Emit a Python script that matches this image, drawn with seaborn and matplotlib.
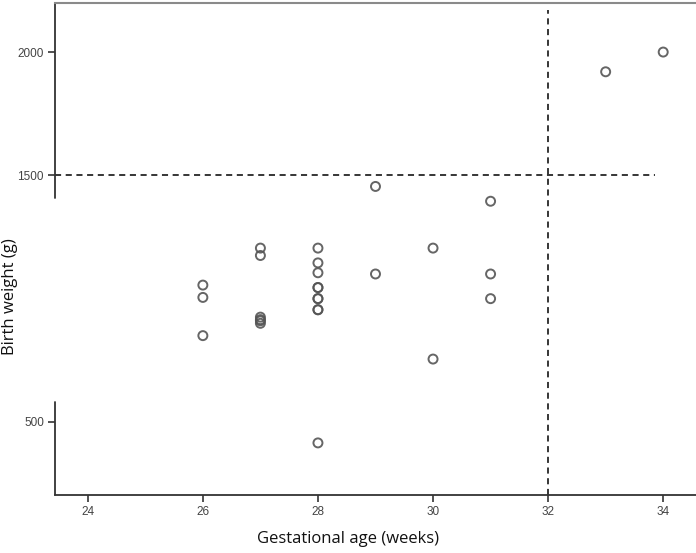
import pandas as pd
import matplotlib
matplotlib.use('Agg')
import matplotlib.pyplot as plt
import seaborn as sns

# values
gest_age = [26, 26, 26,
            27, 27, 27, 27, 27, 27,
            28, 28, 28, 28, 28, 28, 28, 28, 28, 28,
            29, 29,
            30, 30,
            31, 31, 31,
            33, 34]
birth_weight = [1055, 1005, 850,
                1205, 1175, 925, 915, 910, 900,
                1205, 1145, 1105, 1045, 1045, 1000, 1000, 955, 955, 415,
                1455, 1100,
                1205, 755,
                1395, 1100, 1000,
                1920, 2000]
x_ticks = [24, 26, 28, 30, 32, 34]
y_ticks = [500, 1500, 2000]
weight_cut = 1500
age_cut = 32

df = pd.DataFrame({'age': gest_age, 'weight': birth_weight})

sns.set_style('white')

fig = plt.figure(figsize=(6.96, 5.53), dpi=100)
ax = fig.add_axes([0.079, 0.105, 0.921, 0.8896])

sns.scatterplot(data=df, x='age', y='weight', ax=ax, marker='o', s=42,
                facecolor='none', edgecolor='#555555', linewidth=1.4, alpha=0.9)

ax.set_xlim(23.43, 34.57)
ax.set_ylim(204, 2199)

ax.axhline(weight_cut, xmin=0, xmax=0.936, color='black', linestyle=(0, (4, 3)), linewidth=1.1)
ax.axvline(age_cut, ymin=0, ymax=0.986, color='black', linestyle=(0, (4, 3)), linewidth=1.1)

ax.set_xticks(x_ticks)
ax.set_yticks(y_ticks)
ax.tick_params(axis='both', direction='out', length=5, width=1.2, color='#333333',
               labelsize=8.5, labelcolor='#444444', bottom=True, left=True, pad=3)
for lab in ax.get_xticklabels() + ax.get_yticklabels():
    lab.set_family('Liberation Sans')

# left spine has a gap around 1000
ax.spines['left'].set_visible(False)
ax.spines['right'].set_visible(False)
ax.spines['top'].set_color('#8a8a8a')
ax.spines['top'].set_linewidth(1.5)
ax.spines['bottom'].set_color('#333333')
ax.spines['bottom'].set_linewidth(1.3)
trans = ax.get_yaxis_transform()
ax.plot([0, 0], [1408, 2199], transform=trans, color='#333333', linewidth=1.3, clip_on=False)
ax.plot([0, 0], [204, 581], transform=trans, color='#333333', linewidth=1.3, clip_on=False)

ax.set_xlabel('Gestational age (weeks)', fontsize=12, family='Open Sans', color='#111111')
ax.set_ylabel('Birth weight (g)', fontsize=12, family='Open Sans', color='#111111')
ax.xaxis.set_label_coords(0.457, -0.074)
ax.yaxis.set_label_coords(-0.057, 0.404)

fig.savefig('out.png', dpi=100)
